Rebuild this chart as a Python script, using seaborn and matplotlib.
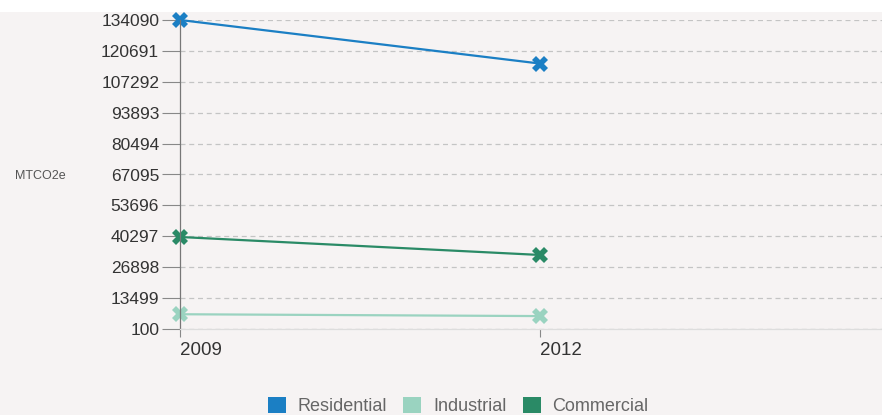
import matplotlib
matplotlib.use("Agg")
import matplotlib.pyplot as plt
import seaborn as sns
import pandas as pd
from matplotlib.patches import Patch, Rectangle

years = [2009, 2012]
sectors = ["Residential", "Industrial", "Commercial"]
residential = [134090, 115200]
industrial = [6500, 5700]
commercial = [40000, 32200]
yticks = [100, 13499, 26898, 40297, 53696, 67095, 80494, 93893, 107292, 120691, 134090]
colors = {"Residential": "#1b7fc4", "Industrial": "#9ad3c0", "Commercial": "#2a8a66"}

rows = []
for name, vals in zip(sectors, [residential, industrial, commercial]):
    for y, v in zip(years, vals):
        rows.append({"year": y, "value": v, "sector": name})
df = pd.DataFrame(rows)

sns.set_theme(style="white")
plt.rcParams['font.family'] = ['Liberation Sans', 'DejaVu Sans']

bg = "#f6f3f3"
fig = plt.figure(figsize=(8.82, 4.15), dpi=100, facecolor=bg)
fig.patches.append(Rectangle((0, 1-12/415), 1, 12/415, transform=fig.transFigure,
                             facecolor="white", edgecolor="none", zorder=0))
ax = fig.add_axes([180/882, 1-329/415, 1-180/882, (329-20)/415])
ax.set_facecolor(bg)

sns.lineplot(data=df, x="year", y="value", hue="sector", palette=colors,
             hue_order=sectors, marker="X", markersize=11, markeredgewidth=0,
             linewidth=1.6, legend=False, ax=ax)
for l in ax.lines:
    l.set_clip_on(False)

ax.set_ylim(100, 134090)
ax.set_xlim(2009, 2009 + 702/120)
ax.set_yticks(yticks)
ax.set_yticklabels([str(t) for t in yticks], fontsize=12.5, color="#333333")
ax.set_xticks(years)
ax.set_xticklabels([str(y) for y in years], fontsize=13.5, color="#333333", ha="left")
ax.tick_params(axis="y", length=13, width=0.8, color="#888888", pad=2, left=True)
ax.tick_params(axis="x", length=6, width=0.8, color="#888888", pad=3, bottom=True)
ax.yaxis.grid(True, linestyle=(0, (4, 3)), color="#c4c4c4", linewidth=0.9)
ax.xaxis.grid(False)
for s in ["top", "right"]:
    ax.spines[s].set_visible(False)
ax.spines["left"].set_color("#777777")
ax.spines["left"].set_linewidth(0.9)
ax.spines["bottom"].set_color("#dddddd")
ax.spines["bottom"].set_linewidth(0.9)
ax.set_xlabel("")
ax.set_ylabel("")
fig.text(15/882, 1-176/415, "MTCO2e", fontsize=9, color="#555555", va="center", ha="left")

handles = [Patch(facecolor=colors[s], edgecolor="none", label=s) for s in sectors]
fig.legend(handles=handles, loc="center", bbox_to_anchor=(458/882, 1-406/415), ncol=3,
           frameon=False, fontsize=13, handlelength=1.0, handleheight=1.0,
           handletextpad=0.65, columnspacing=0.9, labelcolor="#666666")

fig.savefig("out.png", dpi=100, facecolor=bg)
